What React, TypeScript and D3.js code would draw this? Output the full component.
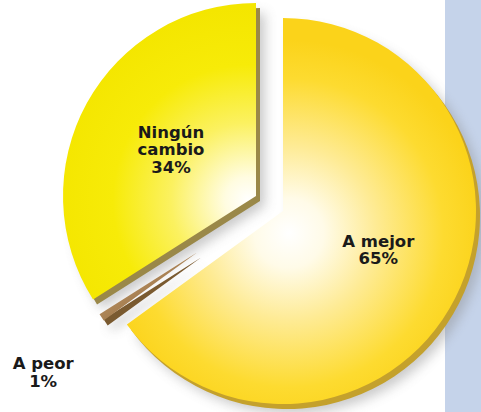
import React from "react";
import * as d3 from "d3";

const categories = ["A mejor", "A peor", "Ningún cambio"];
const values = [65, 1, 34];
const labelLines = [["A mejor", "65%"], ["A peor", "1%"], ["Ningún", "cambio", "34%"]];

const W = 481;
const H = 412;
const CX = 283;
const CY = 211;
const R = 193;

// styling per slice (not data)
const offsets: [number, number][] = [[0, 0], [-16, -6], [-27, -15]];
const outerR = [R, 200, R];
const innerR = [0, 85, 0];
const pads = [0, 0.026, 0];
const topIds = ["gMejor", "gPeor", "gNingun"];
const sideColors = ["#c4a12c", "#7a5a30", "#9a8848"];
const labelRadius = [107, 290, 97];
const labelDy = [-10, -2, 0];
const labelOffset = [true, false, true];

export default function App() {
  const pie = d3.pie<number>().sort(null).startAngle(0).endAngle(2 * Math.PI);
  const arcs = pie(values);

  const pathFor = (i: number) =>
    d3
      .arc<d3.PieArcDatum<number>>()
      .innerRadius(innerR[i])
      .outerRadius(outerR[i])
      .padAngle(pads[i])
      .padRadius(outerR[i])(arcs[i]) || "";

  const order = [0, 2, 1];

  return (
    <svg width={W} height={H} style={{ position: "fixed", left: 0, top: 0, background: "#fff" }}>
      <defs>
        <filter id="blur" x="-20%" y="-20%" width="140%" height="140%">
          <feGaussianBlur stdDeviation="6" />
        </filter>
        <radialGradient id="gMejor" gradientUnits="userSpaceOnUse" cx={6} cy={22} r={R}>
          <stop offset="0" stopColor="#ffffff" />
          <stop offset="0.18" stopColor="#fffbe8" />
          <stop offset="0.45" stopColor="#feeb95" />
          <stop offset="0.8" stopColor="#fddb30" />
          <stop offset="1" stopColor="#fbd31a" />
        </radialGradient>
        <radialGradient id="gNingun" gradientUnits="userSpaceOnUse" cx={-8} cy={4} r={R}>
          <stop offset="0" stopColor="#ffffff" />
          <stop offset="0.12" stopColor="#fffce0" />
          <stop offset="0.4" stopColor="#fbf160" />
          <stop offset="0.7" stopColor="#f7eb08" />
          <stop offset="1" stopColor="#f4e600" />
        </radialGradient>
        <linearGradient id="gPeor" x1="0" y1="0" x2="1" y2="1">
          <stop offset="0" stopColor="#c9a070" />
          <stop offset="1" stopColor="#8a6438" />
        </linearGradient>
      </defs>

      <rect x={445} y={0} width={36} height={H} fill="#c5d3ea" />

      {/* shadows */}
      {order.map((i) => (
        <path
          key={"s" + i}
          d={pathFor(i)}
          transform={`translate(${CX + offsets[i][0] + 9},${CY + offsets[i][1] + 10})`}
          fill="#8a8a8a"
          opacity={0.45}
          filter="url(#blur)"
        />
      ))}

      {order.map((i) => (
        <g key={"p" + i} transform={`translate(${CX + offsets[i][0]},${CY + offsets[i][1]})`}>
          <path d={pathFor(i)} transform="translate(4,5)" fill={sideColors[i]} />
          <path d={pathFor(i)} fill={`url(#${topIds[i]})`} />
        </g>
      ))}

      {arcs.map((a, i) => {
        const c = d3
          .arc<d3.PieArcDatum<number>>()
          .innerRadius(labelRadius[i])
          .outerRadius(labelRadius[i])
          .centroid(a);
        const ox = labelOffset[i] ? offsets[i][0] : 0;
        const oy = labelOffset[i] ? offsets[i][1] : 0;
        const x = CX + ox + c[0];
        const y = CY + oy + c[1];
        const lines = labelLines[i];
        const lh = 17.5;
        const y0 = y + labelDy[i] - ((lines.length - 1) * lh) / 2 + 6;
        return (
          <text
            key={"t" + i}
            x={x}
            y={y0}
            textAnchor="middle"
            fontFamily="DejaVu Sans, Verdana, sans-serif"
            fontWeight="bold"
            fontSize={16.5}
            fill="#1a1a1a"
          >
            {lines.map((l, j) => (
              <tspan key={j} x={x} dy={j === 0 ? 0 : lh}>
                {l}
              </tspan>
            ))}
          </text>
        );
      })}
    </svg>
  );
}
